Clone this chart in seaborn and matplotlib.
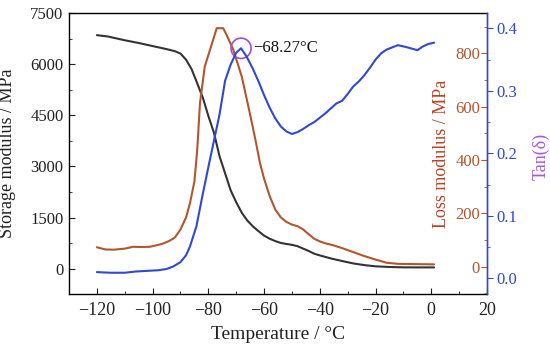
import numpy as np
import pandas as pd
import seaborn as sns
import matplotlib.pyplot as plt
from matplotlib.ticker import MultipleLocator
from matplotlib.patches import Ellipse

# storage modulus (MPa)
temp_s = [-120, -116, -110, -105, -100, -95, -92, -90, -88, -86, -84.3, -82, -80, -78,
          -76, -74, -72, -70, -68, -66, -64, -62, -60, -58, -56, -54, -52, -50, -48,
          -46, -44, -42, -40, -36, -32, -28, -24, -20, -15, -10, -5, 1]
storage = [6850, 6810, 6700, 6620, 6530, 6440, 6380, 6310, 6130, 5850, 5500, 5020, 4480, 3990,
           3300, 2800, 2300, 1950, 1640, 1410, 1240, 1100, 970, 880, 810, 755, 725, 700, 660,
           590, 520, 440, 390, 300, 225, 155, 105, 70, 50, 40, 38, 38]

# loss modulus (MPa)
temp_l = [-120, -117, -114, -110, -107, -104, -101, -98, -96, -94, -92, -90, -88, -86.6,
          -85, -84, -83, -81.3, -79.5, -78, -77, -74.7, -73.5, -71, -68, -65, -63, -61.5,
          -60, -58, -56, -54, -52, -50, -48, -46, -44, -42, -40, -38, -35, -32, -28, -24,
          -20, -16, -12, -6, 1]
loss = [73, 65, 64, 68, 75, 74, 75, 82, 88, 97, 110, 140, 185, 238,
        320, 437, 614, 750, 810, 860, 894, 894, 870, 812, 712, 570, 470, 390,
        330, 265, 215, 185, 168, 158, 152, 140, 122, 105, 95, 88, 80, 70, 55, 40,
        27, 15, 11, 10, 9]

# tan(delta)
temp_t = [-120, -115, -110, -106, -102, -98, -95, -92.6, -90, -88, -86.6, -84.3, -82, -80,
          -78, -76, -74, -72, -70, -68.27, -66.3, -64, -62, -60, -58, -56, -54, -52, -50,
          -48, -46, -44, -42, -40, -38, -36, -34, -32, -30, -28, -26, -24, -22, -20, -18,
          -16, -12, -9, -5, -3, -1, 1]
tan_d = [0.010, 0.009, 0.009, 0.011, 0.012, 0.013, 0.015, 0.019, 0.026, 0.037, 0.051, 0.083,
         0.135, 0.178, 0.220, 0.262, 0.316, 0.342, 0.361, 0.368, 0.355, 0.335, 0.315, 0.293,
         0.273, 0.256, 0.243, 0.235, 0.231, 0.234, 0.239, 0.245, 0.250, 0.257, 0.264, 0.272,
         0.280, 0.284, 0.295, 0.307, 0.315, 0.325, 0.337, 0.350, 0.360, 0.366, 0.373, 0.370,
         0.365, 0.371, 0.375, 0.377]

peak_t = -68.27
peak_tan = 0.368

c_s = '#333333'
c_l = '#b2562d'
c_t = '#3048d2'
c_lab_l = '#b5452a'
c_lab_t = '#a45ad8'

sns.set_style('ticks')
plt.rcParams['font.family'] = ['Liberation Serif', 'DejaVu Serif']
plt.rcParams['axes.unicode_minus'] = True

fig = plt.figure(figsize=(5.5, 3.51), dpi=100)
ax = fig.add_axes([0.1255, 0.1624, 0.76, 0.8006])
ax2 = ax.twinx()
ax3 = ax.twinx()

sns.lineplot(x=temp_s, y=storage, ax=ax, color=c_s, lw=1.5, sort=False)
sns.lineplot(x=temp_l, y=loss, ax=ax2, color=c_l, lw=1.5, sort=False)
sns.lineplot(x=temp_t, y=tan_d, ax=ax3, color=c_t, lw=1.5, sort=False)

ax.set_xlim(-130, 20)
ax.set_ylim(-742, 7500)
ax2.set_ylim(-102, 951)
ax3.set_ylim(-0.025, 0.4245)

ax.xaxis.set_major_locator(MultipleLocator(20))
ax.xaxis.set_minor_locator(MultipleLocator(10))
ax.yaxis.set_major_locator(MultipleLocator(1500))
ax.yaxis.set_minor_locator(MultipleLocator(750))
ax2.yaxis.set_major_locator(MultipleLocator(200))
ax2.yaxis.set_minor_locator(MultipleLocator(100))
ax3.yaxis.set_major_locator(MultipleLocator(0.1))
ax3.yaxis.set_minor_locator(MultipleLocator(0.05))
ax3.yaxis.set_major_formatter(plt.FormatStrFormatter('%.1f'))

ax.tick_params(axis='both', which='both', direction='in', colors='#222222')
ax.tick_params(which='major', length=4)
ax.tick_params(which='minor', length=2.5)
ax.tick_params(axis='y', pad=4, labelsize=12)
ax.tick_params(axis='x', pad=6, labelsize=13)

ax2.tick_params(axis='y', which='both', direction='in', labelsize=12, colors=c_l, pad=-5)
ax2.tick_params(axis='y', which='major', length=4)
ax2.tick_params(axis='y', which='minor', length=2.5)
for lab in ax2.get_yticklabels():
    lab.set_horizontalalignment('right')

ax3.tick_params(axis='y', which='both', direction='out', labelsize=12, colors=c_t, pad=3)
ax3.tick_params(axis='y', which='major', length=4)
ax3.tick_params(axis='y', which='minor', length=2.5)

for a in (ax, ax2, ax3):
    for s in a.spines.values():
        s.set_linewidth(1.0)
ax.spines['right'].set_visible(False)
ax2.spines['right'].set_color(c_t)
ax3.spines['right'].set_color(c_t)
for s in ('left', 'top', 'bottom'):
    ax.spines[s].set_color('black')
    ax2.spines[s].set_visible(False)
    ax3.spines[s].set_visible(False)

ax.set_xlabel('Temperature / °C', fontsize=14, color='#222222', labelpad=5)
ax.set_ylabel('Storage modulus / MPa', fontsize=13, color='#222222')
ax.yaxis.set_label_coords(-0.126, 0.5)
ax2.set_ylabel('Loss modulus / MPa', fontsize=13, color=c_lab_l)
ax2.yaxis.set_label_coords(0.87, 0.5)
ax3.set_ylabel('Tan(δ)', fontsize=13, color=c_lab_t)
ax3.yaxis.set_label_coords(1.108, 0.49)

# peak marker
ax3.add_patch(Ellipse((peak_t, peak_tan), width=7.2, height=0.0325, fill=False,
                      edgecolor='#9b4fdc', lw=1.2))
ax3.text(peak_t + 4.2, peak_tan + 0.0, '−68.27°C', fontsize=12, color='#111111',
         va='center', ha='left')

fig.savefig('out.png', dpi=100)
